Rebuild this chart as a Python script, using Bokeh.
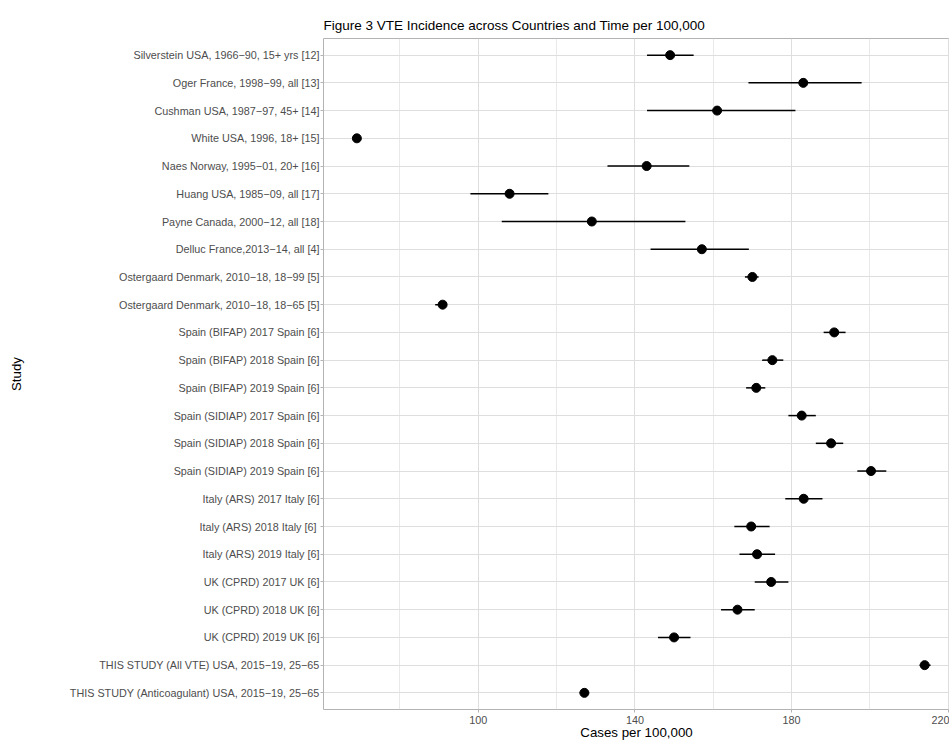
from bokeh.plotting import figure
from bokeh.models import FactorRange, Range1d, FixedTicker, ColumnDataSource
from bokeh.embed import file_html
from bokeh.resources import INLINE

studies = [
    "Silverstein USA, 1966−90, 15+ yrs [12]",
    "Oger France, 1998−99, all [13]",
    "Cushman USA, 1987−97, 45+ [14]",
    "White USA, 1996, 18+ [15]",
    "Naes Norway, 1995−01, 20+ [16]",
    "Huang USA, 1985−09, all [17]",
    "Payne Canada, 2000−12, all [18]",
    "Delluc France,2013−14, all [4]",
    "Ostergaard Denmark, 2010−18, 18−99 [5]",
    "Ostergaard Denmark, 2010−18, 18−65 [5]",
    "Spain (BIFAP) 2017 Spain [6]",
    "Spain (BIFAP) 2018 Spain [6]",
    "Spain (BIFAP) 2019 Spain [6]",
    "Spain (SIDIAP) 2017 Spain [6]",
    "Spain (SIDIAP) 2018 Spain [6]",
    "Spain (SIDIAP) 2019 Spain [6]",
    "Italy (ARS) 2017 Italy [6]",
    "Italy (ARS) 2018 Italy  [6]",
    "Italy (ARS) 2019 Italy [6]",
    "UK (CPRD) 2017 UK [6]",
    "UK (CPRD) 2018 UK [6]",
    "UK (CPRD) 2019 UK [6]",
    "THIS STUDY (All VTE) USA, 2015−19, 25−65",
    "THIS STUDY (Anticoagulant) USA, 2015−19, 25−65",
]

estimate = [149.0, 183.0, 161.0, 69.0, 143.0, 108.0, 129.0, 157.1, 170.0, 90.9,
            190.9, 175.1, 171.0, 182.6, 190.1, 200.3, 183.1, 169.7, 171.2, 174.8,
            166.2, 150.0, 214.0, 127.1]
lower = [143.1, 169.0, 143.1, 68.6, 133.0, 98.0, 106.0, 144.0, 168.1, 89.0,
         188.2, 172.5, 168.4, 179.2, 186.2, 196.8, 178.4, 165.4, 166.7, 170.6,
         162.0, 145.9, 212.7, 125.9]
upper = [155.0, 197.9, 181.0, 69.4, 153.9, 117.9, 152.9, 169.1, 171.6, 91.9,
         193.8, 177.9, 173.3, 186.2, 193.2, 204.2, 187.9, 174.4, 175.8, 179.2,
         170.6, 154.2, 215.5, 128.3]

x_major_ticks = [100, 140, 180, 220]
x_minor_ticks = [80, 120, 160, 200]

FONT = "Liberation Sans"

src = ColumnDataSource(dict(study=studies, est=estimate, lo=lower, hi=upper))

p = figure(
    width=949, height=742,
    y_range=FactorRange(*reversed(studies), range_padding=0.1, range_padding_units="absolute"),
    x_range=Range1d(60.48, 220.34),
    output_backend="svg", toolbar_location=None,
    min_border_left=323, min_border_right=0, min_border_top=38, min_border_bottom=0,
    title="Figure 3 VTE Incidence across Countries and Time per 100,000",
)

p.title.text_font = FONT
p.title.text_font_size = "13.5px"
p.title.text_font_style = "normal"
p.title.text_color = "black"
p.title.align = "left"
p.title.standoff = 12

p.background_fill_color = "white"
p.border_fill_color = "white"
p.outline_line_color = "#B3B3B3"
p.outline_line_width = 1

# grids
p.xgrid.grid_line_color = "#DEDEDE"
p.xgrid.grid_line_width = 1
p.xgrid.minor_grid_line_color = "#E3E3E3"
p.xgrid.minor_grid_line_width = 0.8
p.ygrid.grid_line_color = "#DEDEDE"
p.ygrid.grid_line_width = 1

p.xaxis.ticker = FixedTicker(ticks=x_major_ticks, minor_ticks=x_minor_ticks)

for ax in (p.xaxis[0], p.yaxis[0]):
    ax.axis_line_color = None
    ax.major_tick_line_color = "#B3B3B3"
    ax.major_tick_out = 3
    ax.major_tick_in = 0
    ax.minor_tick_line_color = None
    ax.major_label_text_font = FONT
    ax.major_label_text_font_size = "10.8px"
    ax.major_label_text_color = "#4D4D4D"
    ax.axis_label_text_font = FONT
    ax.axis_label_text_font_size = "13.3px"
    ax.axis_label_text_font_style = "normal"
    ax.axis_label_text_color = "black"

p.xaxis.axis_label = "Cases per 100,000"
p.xaxis.major_label_standoff = 2
p.xaxis.axis_label_standoff = -2
p.yaxis.axis_label = "Study"
p.yaxis.major_label_standoff = 1
p.yaxis.axis_label_standoff = 43

p.segment(x0="lo", y0="study", x1="hi", y1="study", source=src,
          line_color="black", line_width=1.5)
p.scatter(x="est", y="study", source=src, size=9,
          fill_color="black", line_color="black")

open("out.html", "w").write(file_html(p, INLINE))
